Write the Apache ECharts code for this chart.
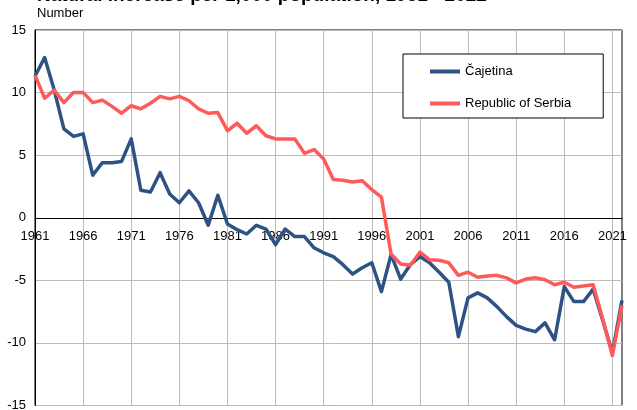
<!DOCTYPE html>
<html>
<head>
<meta charset="utf-8">
<script src="https://cdn.jsdelivr.net/npm/echarts@6/dist/echarts.min.js"></script>
<style>
html,body{margin:0;padding:0;background:#fff;}
#chart{width:637px;height:410px;}
</style>
</head>
<body>
<div id="chart"></div>
<script>
var years = [];
for (var y = 1961; y <= 2022; y++) years.push(String(y));

var cajetina = [
  11.3, 12.8, 10.2, 7.1, 6.5, 6.7, 3.4, 4.4, 4.4, 4.5,
  6.3, 2.2, 2.05, 3.6, 1.9, 1.2, 2.15, 1.2, -0.6, 1.8,
  -0.5, -0.95, -1.3, -0.6, -0.9, -2.15, -0.9, -1.5, -1.5, -2.4,
  -2.8, -3.1, -3.75, -4.5, -4.0, -3.6, -5.9, -2.95, -4.9, -3.75,
  -3.1, -3.6, -4.35, -5.15, -9.5, -6.4, -6.0, -6.4, -7.1, -7.9,
  -8.6, -8.9, -9.1, -8.4, -9.75, -5.5, -6.7, -6.7, -5.7, -8.2,
  -10.8, -6.6
];

var serbia = [
  11.4, 9.55, 10.2, 9.2, 10.0, 10.0, 9.2, 9.4, 8.9, 8.35,
  8.95, 8.7, 9.15, 9.7, 9.5, 9.7, 9.35, 8.7, 8.35, 8.4,
  6.95, 7.55, 6.75, 7.35, 6.55, 6.3, 6.3, 6.3, 5.15, 5.45,
  4.7, 3.05, 3.0, 2.85, 2.95, 2.25, 1.65, -2.9, -3.7, -3.8,
  -2.75, -3.35, -3.4, -3.6, -4.6, -4.35, -4.75, -4.65, -4.6, -4.8,
  -5.2, -4.9, -4.8, -4.95, -5.35, -5.15, -5.55, -5.45, -5.35, -8.1,
  -11.0, -7.0
];

var seriesNames = ['Čajetina', 'Republic of Serbia'];
var titleText = 'Natural increase per 1,000 population, 1961 - 2022';
var unitText = 'Number';

var FONT = '"Liberation Sans", Arial, sans-serif';
var chart = echarts.init(document.getElementById('chart'), null, {renderer: 'canvas'});
chart.setOption({
  animation: false,
  backgroundColor: '#fff',
  textStyle: {fontFamily: FONT},
  graphic: [
    {type: 'text', left: 37, top: -14, style: {text: titleText, font: 'bold 19px ' + FONT, fill: '#000'}},
    {type: 'text', left: 37, top: 7, style: {text: unitText, font: '13px ' + FONT, fill: '#000'}}
  ],
  grid: {left: 35, right: 15, top: 30, bottom: 4.5, show: true, borderColor: '#000', borderWidth: 1,
         containLabel: false, outerBoundsMode: 'none'},
  legend: {
    left: 403, top: 54, orient: 'vertical',
    padding: [11, 32, 8, 27], itemGap: 19,
    itemWidth: 30, itemHeight: 4,
    borderColor: '#000', borderWidth: 1, backgroundColor: '#fff',
    textStyle: {fontSize: 13, color: '#000', fontFamily: FONT},
    data: [{name: seriesNames[0], icon: 'rect'}, {name: seriesNames[1], icon: 'rect'}]
  },
  xAxis: {
    type: 'category', data: years, boundaryGap: false,
    position: 'bottom', offset: -187.75,
    axisLine: {onZero: false, lineStyle: {color: '#000', width: 1}},
    axisTick: {show: false},
    axisLabel: {interval: 4, color: '#000', fontSize: 13, margin: 12, fontFamily: FONT},
    splitLine: {show: true, interval: 4, lineStyle: {color: '#bcbcbc', width: 1}}
  },
  yAxis: {
    type: 'value', min: -15, max: 15, interval: 5,
    axisLine: {show: true, lineStyle: {color: '#000'}},
    axisTick: {show: false},
    axisLabel: {color: '#000', fontSize: 13, margin: 9, fontFamily: FONT},
    splitLine: {lineStyle: {color: '#bcbcbc', width: 1}}
  },
  series: [
    {name: seriesNames[0], type: 'line', data: cajetina, symbol: 'none', color: '#2E5283',
     lineStyle: {width: 3.5, color: '#2E5283', join: 'round'}},
    {name: seriesNames[1], type: 'line', data: serbia, symbol: 'none', color: '#FF5A5A',
     lineStyle: {width: 3.5, color: '#FF5A5A', join: 'round'}}
  ]
});
</script>
</body>
</html>
